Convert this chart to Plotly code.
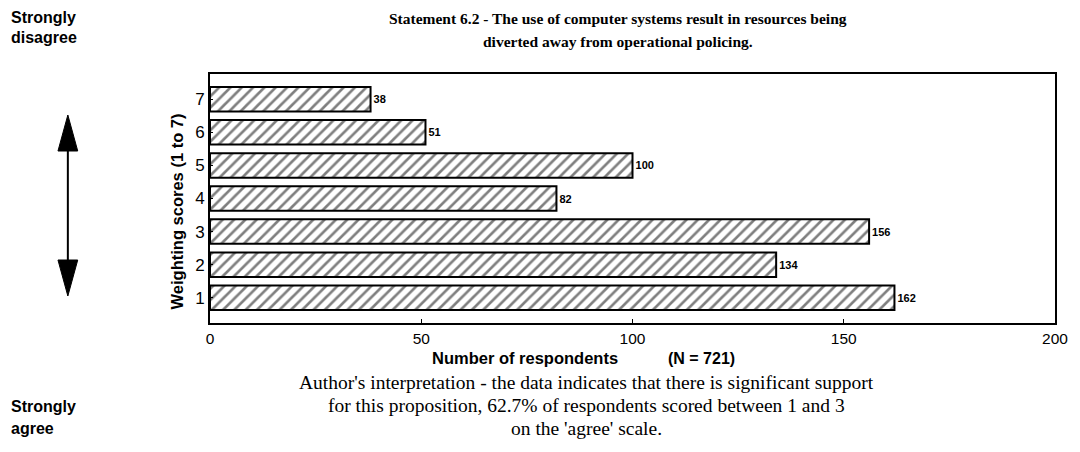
import plotly.graph_objects as go

# %% Data
scores = [1, 2, 3, 4, 5, 6, 7]
respondents = [162, 134, 156, 82, 100, 51, 38]
x_ticks = [0, 50, 100, 150, 200]

title_lines = [
    "Statement 6.2 - The use of computer systems result in resources being",
    "diverted away from operational policing.",
]
note_lines = [
    "Author's interpretation - the data indicates that there is significant support",
    "for this proposition, 62.7% of respondents scored between 1 and 3",
    "on the 'agree' scale.",
]

sans = "Liberation Sans, Arial, sans-serif"
serif = "Liberation Serif, Times New Roman, serif"

# %% Figure (page has an 8px body margin, so the figure is kept inside the window)
W, H = 1072, 436
m_l, m_r, m_t, m_b = 202, 14, 66, 121
pw, ph = W - m_l - m_r, H - m_t - m_b


def px(x):
    # page pixel -> paper x
    return (x - 8 - m_l) / pw


def py(y):
    # page pixel -> paper y
    return (H - m_b - (y - 8)) / ph


fig = go.Figure()
fig.add_trace(go.Bar(
    x=respondents,
    y=scores,
    orientation="h",
    width=0.74,
    marker={
        "color": "white",
        "line": {"color": "black", "width": 2},
        "pattern": {"shape": "/", "fgcolor": "black", "bgcolor": "white",
                    "size": 8, "solidity": 0.33},
    },
    text=["<b>%d</b>" % v for v in respondents],
    textposition="outside",
    textfont={"family": sans, "size": 11, "color": "black"},
    cliponaxis=False,
    showlegend=False,
))

fig.update_xaxes(
    range=[0, 200], tickvals=x_ticks, ticks="inside", ticklen=4,
    tickcolor="black", showgrid=False, zeroline=False,
    showline=True, linecolor="black", linewidth=2, mirror=True,
    tickfont={"family": sans, "size": 15.5, "color": "black"},
)
fig.update_yaxes(
    range=[0.24, 7.76], tickvals=scores, ticks="inside", ticklen=3,
    tickcolor="black", showgrid=False, zeroline=False,
    showline=True, linecolor="black", linewidth=2, mirror=True,
    tickfont={"family": sans, "size": 17, "color": "black"},
)

annotations = [
    dict(x=px(623), y=py(18), text="<b>" + title_lines[0] + "</b>",
         font={"family": serif, "size": 15.5}),
    dict(x=px(623), y=py(42), text="<b>" + title_lines[1] + "</b>",
         font={"family": serif, "size": 15.5}),
    dict(x=px(177), y=py(211), text="<b>Weighting scores (1 to 7)</b>",
         textangle=-90, font={"family": sans, "size": 16.5}),
    dict(x=px(529), y=py(358), text="<b>Number of respondents</b>",
         font={"family": sans, "size": 16.5}),
    dict(x=px(708), y=py(358), text="<b>(N = 721)</b>",
         font={"family": sans, "size": 16}),
    dict(x=px(6), y=py(17), text="<b>Strongly</b>", xanchor="left",
         font={"family": sans, "size": 16}),
    dict(x=px(6), y=py(38), text="<b>disagree</b>", xanchor="left",
         font={"family": sans, "size": 16}),
    dict(x=px(6), y=py(406), text="<b>Strongly</b>", xanchor="left",
         font={"family": sans, "size": 16}),
    dict(x=px(6), y=py(428), text="<b>agree</b>", xanchor="left",
         font={"family": sans, "size": 16}),
]
for i, line in enumerate(note_lines):
    annotations.append(dict(x=px(591), y=py(382 + 23 * i), text=line,
                            font={"family": serif, "size": 19.5}))
for a in annotations:
    a.update(xref="paper", yref="paper", showarrow=False)
    a.setdefault("xanchor", "center")
    a["yanchor"] = "middle"
    a["font"]["color"] = "black"

# double-headed arrow on the left
ax = 66
shapes = [
    dict(type="line", x0=px(ax), x1=px(ax), y0=py(140), y1=py(270),
         line={"color": "black", "width": 2}),
    dict(type="path",
         path=f"M {px(ax)} {py(115)} L {px(ax - 10)} {py(151)} L {px(ax + 10)} {py(151)} Z",
         fillcolor="black", line={"color": "black", "width": 1}),
    dict(type="path",
         path=f"M {px(ax)} {py(296)} L {px(ax - 10)} {py(260)} L {px(ax + 10)} {py(260)} Z",
         fillcolor="black", line={"color": "black", "width": 1}),
]
for s in shapes:
    s.update(xref="paper", yref="paper")

fig.update_layout(
    width=W, height=H,
    margin={"l": m_l, "r": m_r, "t": m_t, "b": m_b},
    paper_bgcolor="white", plot_bgcolor="white",
    annotations=annotations, shapes=shapes,
)

fig.write_html("out.html")
